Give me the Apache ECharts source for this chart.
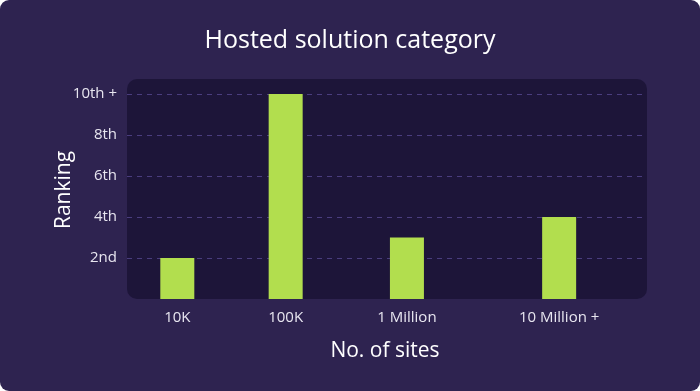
<!DOCTYPE html>
<html>
<head>
<meta charset="utf-8">
<script src="https://cdn.jsdelivr.net/npm/echarts@6/dist/echarts.min.js"></script>
<style>
  html, body { margin: 0; padding: 0; background: #ffffff; }
  #card { width: 700px; height: 391px; border-radius: 9px; background: #2e2350; overflow: hidden; }
  #chart { width: 700px; height: 391px; }
</style>
</head>
<body>
<div id="card"><div id="chart"></div></div>
<script>
// ---- data ----
const categories = ['10K', '100K', '1 Million', '10 Million +'];
const rankings = [2, 10, 3, 4];
const yTickLabels = { 2: '2nd', 4: '4th', 6: '6th', 8: '8th', 10: '10th +' };
const chartTitle = 'Hosted solution category';
const xName = 'No. of sites';
const yName = 'Ranking';

// ---- layout (uneven spacing of the original) ----
const slotCount = 200;
const slotIndex = [19, 61, 108, 167];

const axisCats = new Array(slotCount).fill('');
categories.forEach((c, i) => { axisCats[slotIndex[i]] = c; });
const barData = rankings.map((v, i) => [slotIndex[i], v]);

const font = 'Open Sans';
const chart = echarts.init(document.getElementById('chart'), null, { renderer: 'canvas' });
chart.setOption({
  backgroundColor: 'transparent',
  animation: false,
  title: {
    text: chartTitle,
    left: 'center',
    top: 23,
    textStyle: { color: '#ffffff', fontSize: 25, fontWeight: 'normal', fontFamily: font }
  },
  graphic: [{
    type: 'rect',
    z: -10,
    shape: { x: 127, y: 79, width: 520, height: 220, r: 10 },
    style: { fill: '#1d1539' }
  }],
  grid: { left: 127, right: 57, top: 94, bottom: 92, containLabel: false },
  xAxis: {
    type: 'category',
    data: axisCats,
    boundaryGap: true,
    axisLine: { show: false },
    axisTick: { show: false },
    axisLabel: { interval: 0, color: '#e8e6f0', fontSize: 15, margin: 11, fontFamily: font },
    name: xName,
    nameLocation: 'middle',
    nameGap: 42,
    nameMoveOverlap: false,
    nameTextStyle: { color: '#ffffff', fontSize: 21, fontFamily: font }
  },
  yAxis: {
    type: 'value',
    min: 0,
    max: 10,
    interval: 2,
    axisLine: { show: false },
    axisTick: { show: false },
    axisLabel: {
      color: '#e8e6f0', fontSize: 15, margin: 10, fontFamily: font,
      formatter: v => yTickLabels[v] || ''
    },
    splitLine: {
      show: true,
      showMinLine: false,
      lineStyle: { color: '#4a3d7e', type: [5, 5], width: 1 }
    },
    name: yName,
    nameLocation: 'middle',
    nameGap: 52,
    nameMoveOverlap: false,
    nameTextStyle: { color: '#ffffff', fontSize: 21, fontFamily: font, padding: [0, 0, 0, 13] }
  },
  series: [{
    type: 'bar',
    data: barData,
    barWidth: 34,
    itemStyle: { color: '#b2de4e' },
    z: 5
  }]
});
</script>
</body>
</html>
